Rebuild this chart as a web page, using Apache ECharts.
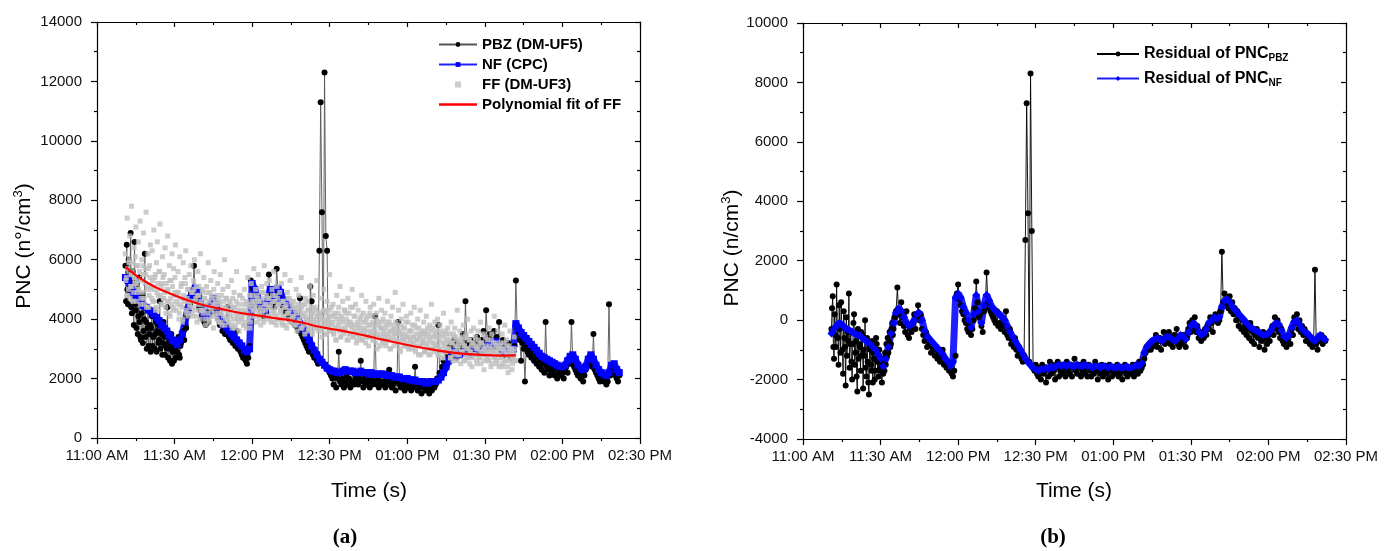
<!DOCTYPE html>
<html>
<head>
<meta charset="utf-8">
<script src="https://cdn.jsdelivr.net/npm/echarts@6/dist/echarts.min.js"></script>
<style>html,body{margin:0;padding:0;background:#fff}#c{width:1395px;height:551px}</style>
</head>
<body>
<div id="c"></div>
<script>
// Time axis: minutes after 11:00 AM
const xTickLabels = ['11:00 AM','11:30 AM','12:00 PM','12:30 PM','01:00 PM','01:30 PM','02:00 PM','02:30 PM'];

// ---- Panel (a) ----
// PBZ (DM-UF5): every 0.25 min from t=11 to 34.75, then every 0.5 min from t=35
const pbzEarlyStart = 11, pbzEarlyStep = 0.25;
const pbzEarlyValues = [
5800,4600,6500,5000,4500,6000,5300,4900,
6900,4400,4200,5600,4800,3800,6600,4500,
4300,3700,5200,3500,4100,5400,3900,3400,
3300,4200,4800,3200,3600,4000,6200,3400,
3900,3000,3700,4300,3100,3500,3800,2900,
3700,4100,3100,3400,4300,3000,3500,3900,
2900,3600,3800,3200,3300,4600,3000,3500,
3600,2800,3200,3900,3400,2800,3100,3600,
3000,4400,2700,3200,3300,2600,3000,3500,
2500,2900,3100,2600,2900,3300,2700,3100,
2900,3200,3400,2800,2700,3100,3200,3400,
3500,3300,3600,3300,3900,3800,3700,4100
];
const pbzLateStart = 35, pbzLateStep = 0.5;
const pbzLateValues = [
4100,4300,
4500,4900,4700,5800,4900,4700,4600,4400,4300,4100,
4000,3900,3800,4100,3900,4300,4200,4500,4400,4600,
4300,4200,4000,3800,3800,3600,3700,3500,3500,4400,
3400,3300,3300,3200,3200,3100,3600,3000,3000,2900,
2800,2700,2700,2600,2500,2700,3100,5300,5100,5000,
4900,4800,4600,4500,4400,4300,4200,4100,4100,4200,
4400,5500,4800,4700,4500,4400,4600,5700,4900,4800,
4700,4500,4400,4300,4200,4300,4100,4000,4000,3900,
3900,3800,3800,3700,3600,4700,3500,3400,3300,3200,
3100,3000,2900,5100,4600,2800,2700,2700,2600,2500,
6300,11300,7600,2500,12300,6800,6300,2300,2200,2100,
2000,1800,2100,1700,2000,2900,1900,1800,2000,1700,
1900,2100,1800,2000,1700,1900,2200,1800,2000,1900,
1800,2000,2600,1900,1700,2000,1800,2100,1900,1700,
2000,1800,1900,4100,1800,2000,1700,1900,2100,1800,
1900,1700,2000,1800,2300,1900,1700,1800,2000,1600,
1900,3900,1800,1700,2000,1800,1600,1900,1700,2000,
1800,1600,1900,1700,2400,1800,1600,1900,1700,1500,
1800,1700,1600,1900,1700,1500,1800,1600,1900,1700,
1800,2000,3800,2200,2100,2400,2600,2500,2900,2700,
2800,3100,2700,3000,3300,2900,2700,3200,3000,2800,
3100,3500,2900,4600,3200,3000,2800,3300,3100,2900,
3200,3000,3400,2900,3100,3300,3000,3600,3200,4300,
3400,3100,3500,3300,3000,3600,3200,3400,3100,3900,
3000,2900,3300,2800,3100,2900,3200,2800,2700,3000,
2900,3100,5300,3700,3500,3300,2600,3200,3000,1900,
3100,2900,2800,3000,2700,2900,2600,2800,2500,2700,
2400,2600,2300,2500,2200,3900,2400,2300,2100,2400,
2200,2300,2100,2400,2000,2200,2300,2100,2200,2000,
2300,2400,2200,2600,2500,3900,2600,2400,2300,2200,
2100,2300,2000,2200,1900,2100,2300,2400,2500,2700,
2600,2400,3500,2300,2200,2100,2000,1900,2100,2000,
1900,2000,1800,1900,4500,2100,2300,2200,2400,2100,
2000,1900,2100
];

// NF (CPC), every 1 min from t=11
const nfStart = 11, nfStep = 1;
const nfValues = [
5400,5300,5100,4900,4800,4650,4550,4450,4400,4300,
4250,4150,4050,3950,3800,3700,3600,3450,3300,3250,
3150,3300,3500,3900,4300,4700,4950,5050,4900,4550,
4250,4100,4150,4450,4700,4500,4200,3950,3800,3700,
3600,3500,3400,3300,3200,3100,2950,2900,3000,5200,
5000,4750,4550,4350,4300,4600,5000,4650,4700,5050,
4900,4650,4500,4450,4300,4200,4100,3950,3800,3650,
3450,3300,3100,2950,2800,2650,2550,2450,2350,2300,
2250,2250,2200,2200,2250,2300,2250,2250,2250,2200,
2200,2250,2200,2200,2150,2200,2150,2150,2150,2150,
2150,2100,2100,2100,2050,2050,2050,2000,2000,2000,
1950,1950,1950,1900,1900,1900,1850,1850,1900,1900,
1900,1950,2050,2200,2400,2600,2800,2900,2850,2800,
2850,2900,2850,2800,2900,2950,2900,2850,2900,3000,
3100,3150,3200,3250,3150,3050,2950,2900,2850,2900,
3000,3850,3700,3550,3450,3350,3250,3150,3050,2950,
2850,2750,2700,2650,2600,2550,2500,2450,2400,2400,
2450,2600,2750,2800,2650,2450,2350,2300,2400,2650,
2800,2650,2450,2300,2200,2150,2100,2200,2450,2500,
2300,2200
];

// FF (DM-UF3), two interleaved reading sets, every 1/3 min from t=11 and t=11+1/6
const ffStart = 11, ffStep = 1/3;
const ffValues = [
6200,5400,7400,4800,5900,6800,5100,7800,5600,4600,6400,5200,7100,5800,4900,
6600,5300,7300,4700,6000,5500,6900,4500,5700,7600,5000,6200,4400,5800,6500,
5100,6300,4600,7000,5400,4300,5900,6600,4800,5600,7200,4500,5200,6100,4700,
5500,6400,4200,5000,6800,4600,5800,4100,5300,6200,4400,5700,4900,6500,4300,
4800,5600,4000,6100,4500,5200,3900,5900,4700,5400,6300,4200,5000,4600,5500,
4400,5800,4900,4100,5300,6000,4600,5100,3900,5600,4800,4300,6200,4500,5000,
4200,5400,4700,3800,5100,4400,5900,4000,4900,5300,4300,4700,3700,5600,4500,
4100,4800,5200,3900,4600,5500,4200,3800,5000,4400,6000,4000,4700,4300,5100,
3900,4600,4100,5300,3700,4400,4900,3800,4200,5600,4000,4500,3600,4800,4300,
4000,4700,3800,5000,4200,3700,4500,5400,4100,4800,3900,5200,4600,4300,5700,
4400,5000,3900,4700,5500,4200,4600,3800,5100,4300,4900,5800,4000,4500,5200,
4700,4100,5300,4400,3900,5000,4600,5600,4200,4800,3800,5100,4500,4000,4900,
4300,5200,3800,4600,4100,5500,4400,3700,4900,4200,4700,5300,3900,4500,4000,
4600,3800,4300,5000,3600,4400,4800,3900,4200,5400,3700,4500,4100,3500,4700,
4000,4600,3600,4300,5100,3800,4200,3500,4800,3900,4400,3700,5300,4100,3600,
4200,3700,4700,3400,4000,5000,3800,4300,3500,4600,3900,4100,5500,3600,4400,
3800,4500,3500,4100,3300,4800,3700,4200,3900,5100,3400,4000,4600,3600,4300,
3700,4200,3300,4700,3900,3500,4400,3800,5000,3400,4100,3600,4500,3200,3900,
4300,3500,4000,3700,4800,3300,4200,3600,3900,4600,3400,4100,3100,3800,4400,
3600,4100,3300,4500,3800,3500,4200,3000,3900,4700,3400,3700,4300,3200,4000,
3500,4200,3100,3800,4600,3400,3900,3000,4100,3600,4400,3300,3700,4900,3500,
3800,3200,4300,3600,2900,4000,3500,4500,3300,3700,3100,4100,3400,3900,3000,
3600,4200,3200,3800,3400,4400,3000,3700,3300,4000,2800,3500,4300,3100,3600,
3300,3900,2900,3600,4100,3200,3500,2800,3800,3400,4500,3000,3700,3200,3900,
3100,3600,4000,2800,3400,3800,3000,3500,2700,4200,3200,3600,2900,3300,3700,
3000,3500,2700,3900,3200,2600,3400,3700,2900,3300,4300,2800,3100,3600,2500,
3400,2900,3800,3100,2600,3500,3000,4000,2700,3300,2900,3600,2400,3200,3700,
2800,3400,3000,2500,3600,3100,2700,3900,3200,2900,3500,2300,3000,3400,2800,
3300,2600,3700,3000,2400,3500,2900,3200,4100,2700,3100,2500,3600,3000,2800,
3200,2700,3500,2400,3000,3800,2600,3300,2900,2200,3100,3600,2700,3000,2500,
2900,3400,2600
];
const ff2Start = 11 + 1/6, ff2Step = 1/3;
const ff2Values = [
5300,4800,5700,5000,6000,4700,5500,5100,5900,4900,5400,6100,4600,5200,5800,
5000,5600,4500,5300,4900,5800,4700,5200,5500,4400,5100,5700,4800,5400,5000,
4700,5300,4600,5000,5500,4400,4900,5200,4300,5600,4800,5100,4500,5400,4700,
4900,4400,5200,4600,5000,4200,5300,4700,4500,5100,4300,4800,5400,4600,4900,
4500,4900,4200,4700,5100,4400,4000,4800,4600,5200,4300,4700,4100,5000,4500,
4600,4200,4900,4400,5000,4300,4700,4100,4800,4500,5100,4000,4600,4300,4900,
4300,4700,4000,4500,4900,4200,4600,3900,4400,4800,4100,4500,5000,4200,4600,
4400,4000,4700,4200,4500,3900,4800,4300,4100,4600,3800,4400,4700,4000,4300,
4200,4500,3800,4300,4700,4000,4400,3700,4600,4100,4300,3900,4800,4200,4000,
4100,4500,3800,4300,3900,4600,4200,4000,4400,3700,4500,4100,4800,4300,4600,
4500,4100,4800,4300,4600,4000,4400,4900,4200,4700,3900,4500,4300,4800,4100,
4400,4700,4000,4500,4200,4800,4300,3900,4600,4100,4400,4700,4000,4500,4200,
4300,3900,4600,4100,4400,3800,4500,4200,4700,4000,4300,3900,4600,4100,4400,
4100,4400,3800,4200,3900,4500,4000,4300,3700,4400,4100,3800,4200,4500,3900,
4000,4300,3700,4100,3900,4400,3600,4200,3800,4000,4300,3700,4100,3900,4200,
3800,4100,3600,4000,4300,3700,3900,4200,3500,4000,3800,4300,3600,3900,4100,
3900,3500,4200,3700,3300,4000,3800,4400,3600,3400,4100,3700,3900,3500,4300,
3600,4000,3800,3300,4200,3500,3900,3700,4400,3400,3800,4100,3500,3700,3300,
3800,3400,3600,4100,3300,3900,3500,3700,3200,4000,3600,3400,3800,4200,3500,
3500,3900,3300,3700,3600,3200,4000,3400,3800,3500,3100,3700,3900,3300,3600,
3400,3700,3200,3900,3500,3300,3600,3000,3800,3400,3600,3100,3500,3900,3300,
3600,3200,3500,3000,3800,3300,3400,3700,3100,3500,3900,3200,3400,3000,3600,
3300,3600,3000,3400,3200,3800,2900,3500,3300,3100,3700,3400,2800,3500,3200,
3200,3500,2900,3400,3100,3700,3000,3300,2800,3600,3200,3000,3400,2900,3500,
3100,3400,2800,3300,3000,3600,2900,3200,2700,3400,3100,2900,3500,3000,3200,
3000,3300,2700,3200,2900,3500,2800,3100,3400,2600,3000,3200,2800,3300,2900,
2900,3200,2600,3100,2800,3400,2700,3000,3300,2500,2900,3100,2700,3200,2800,
2800,3100,2600,3000,3300,2700,2900,2500,3200,2800,3000,2600,3100,2900,2700,
2900,2600,3100,2800,3300,2500,3000,2700,2900,3200,2600,2800,3000,2400,3100,
2700,3000,2500,2900,3200,2600,2800,3100,2400,2800,3000,2600,2900,2300,2700,
2800,3000,2600
];

// Polynomial fit of FF
const fitTimes  = [11,15,20,25,33,40,47,53,60,70,78,85,94,103,111,120,131,140,150,156,162];
const fitValues = [5760,5480,5200,4980,4700,4500,4360,4250,4150,4020,3910,3760,3620,3460,3300,3130,2960,2850,2790,2775,2780];

// ---- Panel (b) ----
// Residual of PNC_PBZ: every 0.25 min from t=11 to 34.75, then every 0.5 min from t=35
const resPbzEarlyStart = 11, resPbzEarlyStep = 0.25;
const resPbzEarlyValues = [
-300,400,800,-900,-1300,200,-500,-900,
1200,-200,-600,-1500,500,-300,-1100,600,
-200,-1000,-1800,300,-600,-900,-2200,100,
-1200,-400,-700,900,-1600,-800,-400,-1400,
-2000,-800,-100,200,-1500,-1100,-700,-1900,
-2400,-300,-1300,-800,-900,-1700,-400,-1200,
-500,-2300,-1000,-1200,0,-1600,-1900,-600,
-1400,-2100,-2500,-900,-1000,-1500,-1700,-700,
-2100,-1100,-1300,-2000,-1700,-600,-800,-1400,
-1400,-1900,-1000,-1600,-1700,-1300,-2100,-1500,
-1800,-1300,-1700,-1100,-1500,-800,-1200,-600,
-1100,-700,-400,-900,-800,-300,-100,-500
];
const resPbzLateStart = 35, resPbzLateStep = 0.5;
const resPbzLateValues = [
-300,100,
300,1100,200,-100,600,100,-200,-400,300,-500,
-600,-300,-400,-100,200,-300,100,500,0,200,
-300,-500,-700,-400,-900,-600,-800,-1100,-900,-1000,
-1200,-900,-1300,-1100,-1400,-1200,-1000,-1500,-1300,-1600,
-1500,-1700,-1600,-1800,-1900,-1700,-1200,900,1200,700,
500,300,200,0,-100,-300,-400,-200,-500,-300,
0,400,1300,600,100,200,-200,-400,300,500,
1600,600,400,300,200,100,0,-100,300,-200,
-100,-300,100,-200,-400,300,-500,-600,-300,-800,
-700,-900,-600,-1000,-1200,-900,-1100,-1300,-1400,-1200,
2700,7300,3600,-1400,8300,3000,-1600,-1700,-1500,-1800,
-1900,-1600,-2000,-1500,-1800,-1700,-2100,-1600,-1900,-1400,
-1800,-1500,-1700,-2000,-1600,-1400,-1900,-1700,-1500,-1800,
-1600,-1900,-1400,-1700,-1800,-1500,-1900,-1600,-1300,-1700,
-1800,-1600,-1500,-1900,-1700,-1400,-1800,-1600,-1900,-1500,
-1700,-1900,-1600,-1800,-1400,-1700,-2000,-1600,-1800,-1500,
-1900,-1700,-1600,-1800,-2000,-1500,-1700,-1900,-1600,-1800,
-1700,-1500,-1900,-1800,-1600,-2000,-1700,-1500,-1800,-1900,
-1600,-1800,-1700,-1500,-1900,-1700,-1600,-1800,-1400,-1700,
-1600,-1500,-1300,-1100,-900,-1000,-800,-1000,-900,-700,
-800,-500,-900,-700,-600,-1000,-700,-400,-800,-600,
-700,-400,-800,-600,-900,-500,-700,-300,-800,-900,
-600,-800,-500,-700,-900,-600,-300,-100,-400,0,
-300,100,-400,-200,-600,-500,-700,-400,-600,-300,
-500,-200,-300,100,-100,-400,0,200,100,-100,
0,300,2300,600,900,500,700,400,800,300,
600,200,400,0,300,-200,100,-300,0,-400,
-200,-500,-300,-600,-100,-700,-400,-800,-500,-300,
-600,-900,-500,-700,-400,-1000,-600,-800,-500,-700,
-400,-200,-500,100,-300,0,-400,-600,-300,-700,
-800,-600,-900,-700,-500,-800,-300,-500,100,-100,
200,-300,0,-400,-200,-500,-300,-700,-500,-600,
-800,-600,-900,-700,1700,-800,-1000,-600,-700,-500,
-800,-600,-700
];

// Residual of PNC_NF, every 1 min from t=11
const resNfStart = 11, resNfStep = 1;
const resNfValues = [
-450,-300,-200,-100,-150,-250,-300,-350,-400,-450,
-500,-500,-600,-650,-750,-800,-900,-1000,-1150,-1300,
-1550,-1300,-900,-450,-100,250,400,300,100,-100,
-200,-150,0,200,250,0,-350,-550,-650,-750,
-850,-950,-1050,-1150,-1300,-1400,-1550,-1400,750,900,
750,450,250,0,-250,200,850,300,-100,500,
850,650,450,350,250,200,100,0,-200,-400,
-550,-700,-850,-1000,-1150,-1300,-1400,-1500,-1600,-1650,
-1700,-1650,-1650,-1600,-1650,-1550,-1600,-1550,-1500,-1550,
-1500,-1550,-1500,-1550,-1550,-1500,-1550,-1550,-1500,-1550,
-1550,-1600,-1550,-1550,-1600,-1550,-1550,-1600,-1550,-1600,
-1600,-1550,-1600,-1600,-1550,-1600,-1600,-1550,-1500,-1550,
-1450,-1100,-900,-800,-700,-650,-600,-650,-700,-600,
-550,-600,-650,-700,-600,-500,-550,-650,-400,-200,
-100,-200,-400,-500,-450,-300,-100,0,100,50,
100,450,650,700,600,450,350,250,150,50,
-50,-150,-250,-300,-350,-400,-450,-500,-500,-450,
-350,-200,-100,-150,-350,-550,-600,-500,-250,-50,
0,-150,-300,-400,-450,-550,-650,-700,-600,-500,
-600,-650
];

function pairs(start, step, vals) { return vals.map((v, i) => [start + i * step, v]); }

const FONT = '"Liberation Sans", Arial, sans-serif';
const chart = echarts.init(document.getElementById('c'));

const AX = { color: '#000', width: 1.2 };
function bottomAxis(gi) {
  return {
    type: 'value', gridIndex: gi, min: 0, max: 210, interval: 30, position: 'bottom',
    axisLine: { show: true, onZero: false, lineStyle: AX },
    axisTick: { show: true, inside: false, length: 6, lineStyle: AX },
    minorTick: { show: true, splitNumber: 2, length: 3, lineStyle: AX },
    splitLine: { show: false },
    axisLabel: { color: '#111', fontSize: 15, fontFamily: FONT, margin: 10,
      formatter: v => xTickLabels[Math.round(v / 30)] }
  };
}
function topAxis(gi) {
  return {
    type: 'value', gridIndex: gi, min: 0, max: 210, interval: 30, position: 'top',
    axisLine: { show: true, onZero: false, lineStyle: AX },
    axisTick: { show: true, inside: true, length: 5, lineStyle: AX },
    minorTick: { show: true, splitNumber: 2, length: 3, lineStyle: AX },
    splitLine: { show: false }, axisLabel: { show: false }
  };
}
function leftAxis(gi, mn, mx) {
  return {
    type: 'value', gridIndex: gi, min: mn, max: mx, interval: 2000, position: 'left',
    axisLine: { show: true, onZero: false, lineStyle: AX },
    axisTick: { show: true, inside: false, length: 6, lineStyle: AX },
    minorTick: { show: true, splitNumber: 2, length: 3, lineStyle: AX },
    splitLine: { show: false },
    axisLabel: { color: '#111', fontSize: 15, fontFamily: FONT, margin: 15, formatter: v => String(v) }
  };
}
function rightAxis(gi, mn, mx) {
  return {
    type: 'value', gridIndex: gi, min: mn, max: mx, interval: 2000, position: 'right',
    axisLine: { show: true, onZero: false, lineStyle: AX },
    axisTick: { show: true, inside: true, length: 5, lineStyle: AX },
    minorTick: { show: true, splitNumber: 2, length: 3, lineStyle: AX },
    splitLine: { show: false }, axisLabel: { show: false }
  };
}

const legendRich = {
  m: { fontSize: 16, fontWeight: 'bold', fontFamily: FONT, color: '#000' },
  s: { fontSize: 10, fontWeight: 'bold', fontFamily: FONT, color: '#000', padding: [9, 0, 0, 0] }
};

const option = {
  animation: false,
  backgroundColor: '#fff',
  grid: [
    { left: 97, top: 22, width: 543, height: 416 },
    { left: 803, top: 23, width: 543, height: 416 }
  ],
  xAxis: [bottomAxis(0), topAxis(0), bottomAxis(1), topAxis(1)],
  yAxis: [leftAxis(0, 0, 14000), rightAxis(0, 0, 14000), leftAxis(1, -4000, 10000), rightAxis(1, -4000, 10000)],
  legend: [
    { orient: 'vertical', left: 433, top: 32, itemWidth: 38, itemHeight: 6, itemGap: 5,
      data: [
        { name: 'PBZ (DM-UF5)' },
        { name: 'NF (CPC)' },
        { name: 'FF (DM-UF3)', icon: 'path://M0,0L1,0L1,1L0,1Z' },
        { name: 'Polynomial fit of FF', icon: 'path://M0,0L38,0L38,2.4L0,2.4Z' }
      ],
      textStyle: { fontSize: 15, fontWeight: 'bold', fontFamily: FONT, color: '#000' } },
    { orient: 'vertical', left: 1091, top: 41, itemWidth: 42, itemHeight: 6, itemGap: 7,
      data: ['Residual of PNC_PBZ', 'Residual of PNC_NF'],
      formatter: n => { const p = n.split('_'); return '{m|' + p[0] + '}{s|' + p[1] + '}'; },
      textStyle: { rich: legendRich } }
  ],
  series: [
    { name: 'PBZ (DM-UF5)', type: 'line', xAxisIndex: 0, yAxisIndex: 0, z: 2,
      data: pairs(pbzEarlyStart, pbzEarlyStep, pbzEarlyValues).concat(pairs(pbzLateStart, pbzLateStep, pbzLateValues)),
      showAllSymbol: true, symbol: 'circle', symbolSize: 6,
      lineStyle: { color: '#555', width: 0.9 }, itemStyle: { color: '#000' } },
    { name: 'NF (CPC)', type: 'line', xAxisIndex: 0, yAxisIndex: 0, z: 2,
      data: pairs(nfStart, nfStep, nfValues), showAllSymbol: true, symbol: 'rect', symbolSize: 7,
      lineStyle: { color: '#2020ff', width: 7 }, itemStyle: { color: '#0000ff' } },
    { name: 'FF (DM-UF3)', type: 'scatter', xAxisIndex: 0, yAxisIndex: 0, z: 3,
      data: pairs(ffStart, ffStep, ffValues).concat(pairs(ff2Start, ff2Step, ff2Values)),
      symbol: 'rect', symbolSize: 5, itemStyle: { color: '#bfbfbf' } },
    { name: 'Polynomial fit of FF', type: 'line', xAxisIndex: 0, yAxisIndex: 0, smooth: true, z: 4,
      data: fitTimes.map((t, i) => [t, fitValues[i]]), showSymbol: false, symbol: 'none',
      lineStyle: { color: '#ff0000', width: 2.2 }, itemStyle: { color: '#ff0000' } },
    { name: 'Residual of PNC_PBZ', type: 'line', xAxisIndex: 2, yAxisIndex: 2,
      data: pairs(resPbzEarlyStart, resPbzEarlyStep, resPbzEarlyValues).concat(pairs(resPbzLateStart, resPbzLateStep, resPbzLateValues)),
      showAllSymbol: true, symbol: 'circle', symbolSize: 6,
      lineStyle: { color: '#000', width: 0.9 }, itemStyle: { color: '#000' } },
    { name: 'Residual of PNC_NF', type: 'line', xAxisIndex: 2, yAxisIndex: 2,
      data: pairs(resNfStart, resNfStep, resNfValues), showAllSymbol: true, symbol: 'diamond', symbolSize: 8,
      lineStyle: { color: '#2020ff', width: 7 }, itemStyle: { color: '#0000ff' } }
  ],
  graphic: [
    { type: 'text', x: 24, y: 246, rotation: Math.PI / 2,
      style: { text: '{m|PNC (n°/cm}{s|3}{m|)}', align: 'center', verticalAlign: 'middle',
        rich: { m: { fontSize: 21, fontFamily: FONT, fill: '#000' }, s: { fontSize: 13, fontFamily: FONT, fill: '#000', padding: [0, 0, 12, 0] } } } },
    { type: 'text', x: 732, y: 248, rotation: Math.PI / 2,
      style: { text: '{m|PNC (n/cm}{s|3}{m|)}', align: 'center', verticalAlign: 'middle',
        rich: { m: { fontSize: 21, fontFamily: FONT, fill: '#000' }, s: { fontSize: 13, fontFamily: FONT, fill: '#000', padding: [0, 0, 12, 0] } } } },
    { type: 'text', x: 369, y: 491, style: { text: 'Time (s)', font: '21px ' + FONT, fill: '#000', align: 'center', verticalAlign: 'middle' } },
    { type: 'text', x: 1074, y: 491, style: { text: 'Time (s)', font: '21px ' + FONT, fill: '#000', align: 'center', verticalAlign: 'middle' } },
    { type: 'text', x: 345, y: 538, style: { text: '(a)', font: 'bold 21px "Liberation Serif", serif', fill: '#000', align: 'center', verticalAlign: 'middle' } },
    { type: 'text', x: 1053, y: 538, style: { text: '(b)', font: 'bold 21px "Liberation Serif", serif', fill: '#000', align: 'center', verticalAlign: 'middle' } }
  ]
};
chart.setOption(option);
</script>
</body>
</html>
